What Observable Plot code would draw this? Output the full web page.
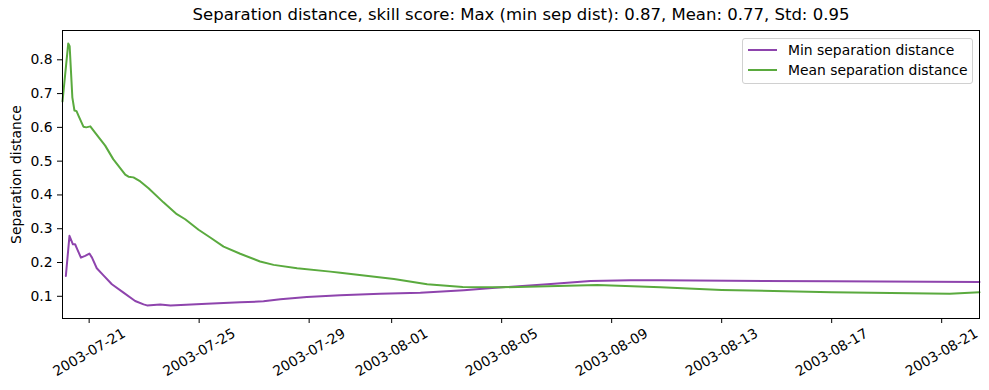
<!DOCTYPE html>
<html>
<head>
<meta charset="utf-8">
<script src="https://cdn.jsdelivr.net/npm/d3@7"></script>
<script src="https://cdn.jsdelivr.net/npm/@observablehq/plot@0.6"></script>
<style>
  body { margin: 0; background: #fff; font-family: "DejaVu Sans", sans-serif; }
  #wrap { position: relative; width: 989px; height: 390px; }
  #legend { position: absolute; left: 742px; top: 38px; width: 229px; height: 44px;
    border: 1px solid #d0d0d0; border-radius: 3px; background: rgba(255,255,255,0.8);
    font-size: 13.9px; color: #000; }
  .item { position: absolute; left: 0; height: 16px; display: flex; align-items: center; }
  .sw { width: 29px; height: 2px; margin-left: 5px; margin-right: 11px; }
</style>
</head>
<body>
<div id="wrap"></div>
<script>
const titleText = "Separation distance, skill score: Max (min sep dist): 0.87, Mean: 0.77, Std: 0.95";
const yLabel = "Separation distance";
const seriesNames = ["Min separation distance", "Mean separation distance"];
const seriesColors = ["#8e44ad", "#5aaa3e"];

const minTimes = ["2003-07-20 03:40","2003-07-20 06:50","2003-07-20 09:50","2003-07-20 11:45","2003-07-20 13:40","2003-07-20 16:50","2003-07-20 20:30","2003-07-21 00:15","2003-07-21 02:30","2003-07-21 06:40","2003-07-21 12:30","2003-07-21 19:50","2003-07-22 06:00","2003-07-22 16:10","2003-07-22 23:30","2003-07-23 02:30","2003-07-23 14:00","2003-07-23 23:00","2003-07-25 06:45","2003-07-26 11:50","2003-07-27 08:10","2003-07-27 22:50","2003-07-28 22:00","2003-07-30 03:00","2003-07-31 14:00","2003-08-02 01:00","2003-08-03 15:00","2003-08-05 00:00","2003-08-06 16:00","2003-08-08 05:30","2003-08-09 16:30","2003-08-10 18:40","2003-08-17 00:00","2003-08-22 09:00"];
const minValues = [0.160,0.279,0.254,0.254,0.239,0.2145,0.2195,0.2265,0.2145,0.183,0.162,0.1355,0.1107,0.086,0.076,0.073,0.076,0.073,0.078,0.082,0.085,0.091,0.098,0.103,0.1077,0.1107,0.118,0.1266,0.1355,0.145,0.1474,0.1474,0.1444,0.1424];

const meanTimes = ["2003-07-20 00:45","2003-07-20 05:45","2003-07-20 07:00","2003-07-20 09:20","2003-07-20 11:10","2003-07-20 13:00","2003-07-20 14:40","2003-07-20 19:00","2003-07-20 21:30","2003-07-21 01:00","2003-07-21 05:00","2003-07-21 14:00","2003-07-21 21:00","2003-07-22 07:30","2003-07-22 10:20","2003-07-22 14:40","2003-07-22 20:40","2003-07-23 03:50","2003-07-23 16:50","2003-07-24 04:30","2003-07-24 11:50","2003-07-24 23:30","2003-07-25 09:40","2003-07-25 21:20","2003-07-26 11:50","2003-07-27 05:10","2003-07-27 17:00","2003-07-28 13:30","2003-07-29 18:30","2003-07-30 03:10","2003-08-01 02:00","2003-08-02 07:00","2003-08-03 14:00","2003-08-05 00:00","2003-08-08 11:30","2003-08-10 18:40","2003-08-13 00:00","2003-08-17 00:00","2003-08-21 07:00","2003-08-22 09:00"];
const meanValues = [0.677,0.848,0.840,0.689,0.650,0.648,0.635,0.602,0.600,0.603,0.585,0.546,0.506,0.460,0.454,0.452,0.440,0.420,0.378,0.343,0.328,0.297,0.274,0.247,0.226,0.203,0.193,0.183,0.173,0.170,0.151,0.1355,0.1276,0.1266,0.1335,0.1265,0.1187,0.1118,0.1077,0.1118];

const xTickLabels = ["2003-07-21","2003-07-25","2003-07-29","2003-08-01","2003-08-05","2003-08-09","2003-08-13","2003-08-17","2003-08-21"];
const yTicks = [0.1,0.2,0.3,0.4,0.5,0.6,0.7,0.8];

const parseT = d3.utcParse("%Y-%m-%d %H:%M");
const parseD = d3.utcParse("%Y-%m-%d");
const rows = [
  ...minTimes.map((t, i) => ({t: parseT(t), v: minValues[i], s: seriesNames[0]})),
  ...meanTimes.map((t, i) => ({t: parseT(t), v: meanValues[i], s: seriesNames[1]}))
];
const xTicks = xTickLabels.map(parseD);
const allV = [...minValues, ...meanValues];
const vmin = d3.min(allV), vmax = d3.max(allV), pad = (vmax - vmin) * 0.05;

const chart = Plot.plot({
  width: 989, height: 390,
  marginLeft: 62, marginRight: 10, marginTop: 30, marginBottom: 72,
  style: {fontFamily: "DejaVu Sans", fontSize: "13.9px", color: "#000", background: "#fff"},
  x: {type: "utc", domain: [parseT(meanTimes[0]), parseT(meanTimes[meanTimes.length - 1])]},
  y: {domain: [vmin - pad, vmax + pad]},
  color: {domain: seriesNames, range: seriesColors},
  marks: [
    Plot.line(rows, {x: "t", y: "v", z: "s", stroke: "s", strokeWidth: 2, curve: "linear"}),
    Plot.frame({stroke: "#000", strokeWidth: 1}),
    Plot.axisY({ticks: yTicks, tickSize: 5, tickPadding: 5, tickFormat: d3.format(".1f"), label: null, fontSize: "13.9px"}),
    Plot.axisX({ticks: xTicks, tickSize: 5, tickFormat: () => "", label: null}),
    Plot.text(xTicks, {x: d => d, frameAnchor: "bottom", dy: 34, rotate: -30, textAnchor: "middle", lineAnchor: "middle",
      text: (d, i) => xTickLabels[i], fontSize: "13.9px", fill: "#000"}),
    Plot.text([yLabel], {frameAnchor: "left", dx: -46, rotate: -90, textAnchor: "middle", lineAnchor: "middle", fontSize: "13.9px", fill: "#000"}),
    Plot.text([titleText], {frameAnchor: "top", dy: -16, textAnchor: "middle", lineAnchor: "middle", fontSize: "16.5px", fill: "#000"})
  ]
});
const wrap = document.getElementById("wrap");
wrap.appendChild(chart);

const legend = document.createElement("div");
legend.id = "legend";
seriesNames.forEach((name, i) => {
  const it = document.createElement("div");
  it.className = "item";
  it.style.top = (i === 0 ? 3 : 23) + "px";
  const sw = document.createElement("div");
  sw.className = "sw";
  sw.style.background = seriesColors[i];
  const tx = document.createElement("span");
  tx.textContent = name;
  it.appendChild(sw); it.appendChild(tx);
  legend.appendChild(it);
});
wrap.appendChild(legend);
</script>
</body>
</html>
